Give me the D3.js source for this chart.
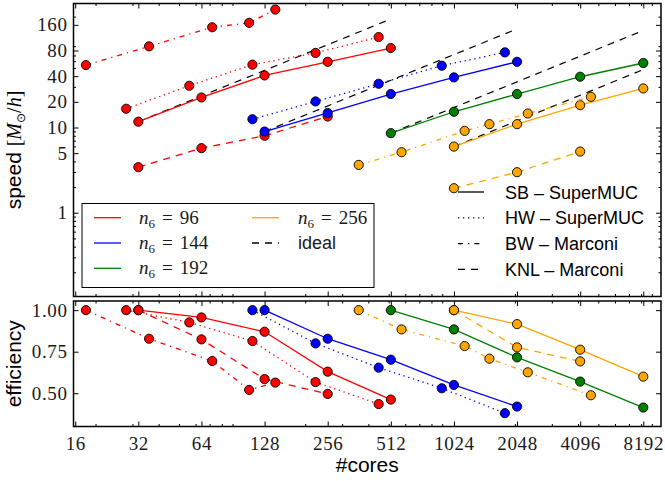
<!DOCTYPE html>
<html>
<head>
<meta charset="utf-8">
<script src="https://cdn.jsdelivr.net/npm/d3@7"></script>
<style>
  body { margin: 0; background: #fff; }
</style>
</head>
<body>
<div id="chart"></div>
<script>
// values
const xTicks = [16, 32, 64, 128, 256, 512, 1024, 2048, 4096, 8192];
const speedTicks = [1, 5, 10, 20, 40, 80, 160];
const effTicks = [0.5, 0.75, 1.0];
const sizeLabels = ["96", "144", "192", "256"];
const sizeColors = ["red", "blue", "green", "orange"];
const machineLabels = ["SB \u2013 SuperMUC", "HW \u2013 SuperMUC", "BW \u2013 Marconi", "KNL \u2013 Marconi"];

// n6 = 96
const red_SB_cores = [32, 64, 128, 256, 512];
const red_SB_speed = [11.7, 22.5, 40.8, 59, 85.6];
const red_SB_eff = [1.0, 0.956, 0.870, 0.630, 0.462];
const red_HW_cores = [28, 56, 112, 224, 448];
const red_HW_speed = [16.6, 30.9, 54.6, 75, 115];
const red_HW_eff = [1.0, 0.926, 0.814, 0.567, 0.435];
const red_BW_cores = [18, 36, 72, 108, 144];
const red_BW_speed = [54, 89.5, 150, 169, 242];
const red_BW_eff = [1.0, 0.828, 0.694, 0.52, 0.564];
const red_KNL_cores = [32, 64, 128, 256];
const red_KNL_speed = [3.42, 5.72, 8.0, 13.45];
const red_KNL_eff = [1.0, 0.824, 0.585, 0.496];

// n6 = 144
const blue_SB_cores = [128, 256, 512, 1024, 2048];
const blue_SB_speed = [8.96, 14.8, 24.7, 38.7, 59];
const blue_SB_eff = [1.0, 0.828, 0.702, 0.55, 0.42];
const blue_HW_cores = [112, 224, 448, 896, 1792];
const blue_HW_speed = [12.5, 20.2, 32.6, 53.1, 76.1];
const blue_HW_eff = [1.0, 0.80, 0.654, 0.53, 0.38];

// n6 = 192
const green_SB_cores = [512, 1024, 2048, 4096, 8192];
const green_SB_speed = [8.58, 15.3, 24.7, 39.4, 57.1];
const green_SB_eff = [1.0, 0.884, 0.716, 0.57, 0.414];

// n6 = 256
const orange_SB_cores = [1024, 2048, 4096, 8192];
const orange_SB_speed = [5.97, 10.94, 18.3, 28.7];
const orange_SB_eff = [1.0, 0.916, 0.762, 0.60];
const orange_BW_cores = [360, 576, 1152, 1512, 2304, 4608];
const orange_BW_speed = [3.64, 5.13, 9.13, 10.94, 14.6, 22.9];
const orange_BW_eff = [1.0, 0.884, 0.784, 0.708, 0.626, 0.488];
const orange_KNL_cores = [1024, 2048, 4096];
const orange_KNL_speed = [1.94, 2.99, 5.22];
const orange_KNL_eff = [1.0, 0.776, 0.692];

// machine index: 0 SB, 1 HW, 2 BW, 3 KNL
const series = [
  {size: 0, m: 0, cores: red_SB_cores, speed: red_SB_speed, eff: red_SB_eff},
  {size: 0, m: 1, cores: red_HW_cores, speed: red_HW_speed, eff: red_HW_eff},
  {size: 0, m: 2, cores: red_BW_cores, speed: red_BW_speed, eff: red_BW_eff},
  {size: 0, m: 3, cores: red_KNL_cores, speed: red_KNL_speed, eff: red_KNL_eff},
  {size: 1, m: 0, cores: blue_SB_cores, speed: blue_SB_speed, eff: blue_SB_eff},
  {size: 1, m: 1, cores: blue_HW_cores, speed: blue_HW_speed, eff: blue_HW_eff},
  {size: 2, m: 0, cores: green_SB_cores, speed: green_SB_speed, eff: green_SB_eff},
  {size: 3, m: 0, cores: orange_SB_cores, speed: orange_SB_speed, eff: orange_SB_eff},
  {size: 3, m: 2, cores: orange_BW_cores, speed: orange_BW_speed, eff: orange_BW_eff},
  {size: 3, m: 3, cores: orange_KNL_cores, speed: orange_KNL_speed, eff: orange_KNL_eff}
];

const dashes = [null, "1.3,3.7", "5,5,1.3,5", "7,6"];
const SERIF = "'Liberation Serif', 'DejaVu Serif', serif";
const SANS = "'Liberation Sans', Arial, sans-serif";

const W = 665, H = 481;
const L = 73.5, R = 661;
const top1 = 3.5, bot1 = 296.5;
const top2 = 301, bot2 = 426.5;

const svg = d3.select("#chart").append("svg")
    .attr("width", W)
    .attr("height", H)
    .style("background", "#fff");

let x = d3.scaleLog().domain([15.7, 9950]).range([L, R]);
let ySpeed = d3.scaleLog().domain([0.104, 285]).range([bot1, top1]);
let yEff = d3.scaleLinear().domain([0.3, 1.055]).range([bot2, top2]);

// minor ticks, base 10 subdivisions
let xMinor = [];
[10, 100, 1000].forEach(k => d3.range(2, 10).forEach(m => {
    let v = m * k;
    if (v > 15.7 && v < 9950 && !xTicks.includes(v)) xMinor.push(v);
}));
let yMinor = [];
[0.1, 1, 10, 100].forEach(k => d3.range(2, 10).forEach(m => {
    let v = +(m * k).toFixed(3);
    if (v > 0.104 && v < 285 && !speedTicks.includes(v)) yMinor.push(v);
}));

function addAxis(gen, tx, ty) {
    let g = svg.append("g")
        .attr("transform", `translate(${tx}, ${ty})`)
        .call(gen);
    g.select(".domain").remove();
    g.selectAll("line").attr("stroke", "#000").attr("stroke-width", 1);
    g.selectAll("text")
        .attr("fill", "#1a1a1a")
        .style("font-family", SERIF)
        .style("font-size", "19px")
        .style("letter-spacing", "0.6px");
    return g;
}

// ticks on all four sides, pointing inward
function panelTicks(y, yt, ym, top, bot, fmt) {
    addAxis(d3.axisBottom(x).tickValues(xTicks).tickSize(-5).tickFormat(""), 0, bot);
    addAxis(d3.axisBottom(x).tickValues(xMinor).tickSize(-2.5).tickFormat(""), 0, bot);
    addAxis(d3.axisTop(x).tickValues(xTicks).tickSize(-5).tickFormat(""), 0, top);
    addAxis(d3.axisTop(x).tickValues(xMinor).tickSize(-2.5).tickFormat(""), 0, top);
    addAxis(d3.axisLeft(y).tickValues(yt).tickSize(-5).tickPadding(6).tickFormat(fmt), L, 0);
    addAxis(d3.axisRight(y).tickValues(yt).tickSize(-5).tickFormat(""), R, 0);
    if (ym.length) {
        addAxis(d3.axisLeft(y).tickValues(ym).tickSize(-2.5).tickFormat(""), L, 0);
        addAxis(d3.axisRight(y).tickValues(ym).tickSize(-2.5).tickFormat(""), R, 0);
    }
}

panelTicks(ySpeed, speedTicks, yMinor, top1, bot1, d3.format("d"));
panelTicks(yEff, effTicks, [], top2, bot2, d3.format(".2f"));

// x labels below the lower panel
addAxis(d3.axisBottom(x).tickValues(xTicks).tickSize(0).tickPadding(10).tickFormat(d3.format("d")), 0, bot2);

// ideal scaling from the first SB point of each size
let ideal = svg.append("g");
series.filter(s => s.m === 0).forEach(s => {
    let c0 = s.cores[0], s0 = s.speed[0], c1 = s.cores[s.cores.length - 1];
    ideal.append("line")
        .attr("x1", x(c0)).attr("y1", ySpeed(s0))
        .attr("x2", x(c1)).attr("y2", ySpeed(s0 * c1 / c0))
        .attr("stroke", "#000")
        .attr("stroke-width", 1.2)
        .attr("stroke-dasharray", "7,6");
});

function drawSeries(y, key) {
    let g = svg.append("g");
    series.forEach(s => {
        let pts = s.cores.map((c, i) => [c, s[key][i]]);
        let line = d3.line().x(d => x(d[0])).y(d => y(d[1]));
        g.append("path")
            .datum(pts)
            .attr("d", line)
            .attr("fill", "none")
            .attr("stroke", sizeColors[s.size])
            .attr("stroke-width", 1.3)
            .attr("stroke-dasharray", dashes[s.m]);
        g.selectAll(null)
            .data(pts)
            .enter()
            .append("circle")
            .attr("cx", d => x(d[0]))
            .attr("cy", d => y(d[1]))
            .attr("r", 4.6)
            .attr("fill", sizeColors[s.size])
            .attr("stroke", "#000")
            .attr("stroke-width", 0.9);
    });
}
drawSeries(ySpeed, "speed");
drawSeries(yEff, "eff");

// frames
[[top1, bot1], [top2, bot2]].forEach(p => {
    svg.append("rect")
        .attr("x", L).attr("y", p[0])
        .attr("width", R - L).attr("height", p[1] - p[0])
        .attr("fill", "none")
        .attr("stroke", "#000")
        .attr("stroke-width", 1.5);
});

// legend of sizes
let leg1 = svg.append("g");
leg1.append("rect")
    .attr("x", 82).attr("y", 203.5)
    .attr("width", 292).attr("height", 84)
    .attr("fill", "#fff")
    .attr("stroke", "#000")
    .attr("stroke-width", 1);

let legItems = sizeLabels.map((s, i) => ({label: s, color: sizeColors[i], dash: null}));
legItems.push({label: "ideal", color: "#000", dash: "7,6"});
legItems.forEach((d, i) => {
    let col = i < 3 ? 0 : 1;
    let row = i < 3 ? i : i - 3;
    let lx = col === 0 ? 94 : 252;
    let tx = col === 0 ? 139 : 298;
    let ry = 217.7 + row * 25.3;
    leg1.append("line")
        .attr("x1", lx).attr("x2", lx + 27)
        .attr("y1", ry).attr("y2", ry)
        .attr("stroke", d.color)
        .attr("stroke-width", 1.3)
        .attr("stroke-dasharray", d.dash);
    let t = leg1.append("text")
        .attr("x", tx).attr("y", ry + 6)
        .attr("fill", "#1a1a1a");
    if (d.label === "ideal") {
        t.style("font-family", SANS).style("font-size", "18px").text("ideal");
    } else {
        t.style("font-family", SERIF).style("font-size", "19px");
        t.append("tspan").style("font-style", "italic").text("n");
        t.append("tspan").attr("dy", 4).style("font-size", "13px").text("6");
        t.append("tspan").attr("dy", -4).attr("dx", 7).text("=");
        t.append("tspan").attr("dx", 7).text(d.label);
    }
});

// legend of machines
let leg2 = svg.append("g");
machineLabels.forEach((m, i) => {
    let ry = 192 + i * 25.8;
    leg2.append("line")
        .attr("x1", 458).attr("x2", 484)
        .attr("y1", ry).attr("y2", ry)
        .attr("stroke", "#000")
        .attr("stroke-width", 1.3)
        .attr("stroke-dasharray", dashes[i]);
    leg2.append("text")
        .attr("x", 505).attr("y", ry + 6.5)
        .style("font-family", SANS)
        .style("font-size", "18px")
        .attr("fill", "#000")
        .text(m);
});

// axis titles
let ylab = svg.append("text")
    .attr("transform", `translate(21, ${(top1 + bot1) / 2}) rotate(-90)`)
    .style("text-anchor", "middle")
    .attr("fill", "#000");
ylab.append("tspan").style("font-family", SANS).style("font-size", "21px").text("speed ");
ylab.append("tspan").style("font-family", SERIF).style("font-size", "20px").text("[");
ylab.append("tspan").style("font-family", SERIF).style("font-size", "20px").style("font-style", "italic").text("M");
ylab.append("tspan").attr("dy", 4).style("font-family", "'DejaVu Sans', sans-serif").style("font-size", "12px").text("\u2299");
ylab.append("tspan").attr("dy", -4).style("font-family", SERIF).style("font-size", "20px").text("/");
ylab.append("tspan").style("font-family", SERIF).style("font-size", "20px").style("font-style", "italic").text("h");
ylab.append("tspan").style("font-family", SERIF).style("font-size", "20px").text("]");

svg.append("text")
    .attr("transform", `translate(21, ${(top2 + bot2) / 2}) rotate(-90)`)
    .style("text-anchor", "middle")
    .style("font-family", SANS)
    .style("font-size", "21px")
    .attr("fill", "#000")
    .text("efficiency");

svg.append("text")
    .attr("x", (L + R) / 2).attr("y", 472)
    .style("text-anchor", "middle")
    .style("font-family", SANS)
    .style("font-size", "21px")
    .attr("fill", "#000")
    .text("#cores");
</script>
</body>
</html>
